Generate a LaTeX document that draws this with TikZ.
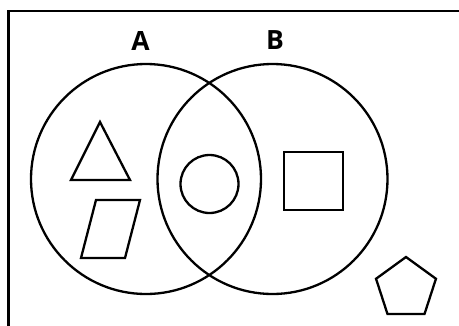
\documentclass[tikz,border=0pt]{standalone}
\usepackage{fontspec}
\setmainfont{Open Sans}
\usetikzlibrary{shapes.geometric}
\begin{document}
\begin{tikzpicture}[x=1pt,y=-1pt,
  ln/.style={line width=2.3pt,draw=black},
  lbl/.style={font=\fontsize{26.5}{26.5}\selectfont\bfseries,inner sep=0pt}]
\useasboundingbox (0,0) rectangle (459,325);
% frame (only top and left visible)
\draw[ln] (8.5,340) -- (8.5,11) -- (470,11);
% labels
\node[lbl] (la) at (140.5,40.5) {A};
\node[lbl] (lb) at (275,40.5) {B};
% set circles
\node[ln,circle,minimum size=230pt,inner sep=0pt] (ca) at (146,179) {};
\node[ln,circle,minimum size=230pt,inner sep=0pt] (cb) at (272.5,179) {};
% triangle
\draw[ln,line join=miter] (100,122) -- (130,180) -- (71,180) -- cycle;
% parallelogram
\draw[ln,line join=miter] (96,200) -- (140,200) -- (125,258) -- (81,258) -- cycle;
% inner circle
\node[ln,circle,minimum size=58pt,inner sep=0pt] (cc) at (209.5,184) {};
% square
\draw[ln] (284,152) rectangle (343,210);
% pentagon
\node[ln,regular polygon,regular polygon sides=5,minimum size=63pt,inner sep=0pt,line join=miter] (pp) at (406,288.5) {};
\end{tikzpicture}
\end{document}
